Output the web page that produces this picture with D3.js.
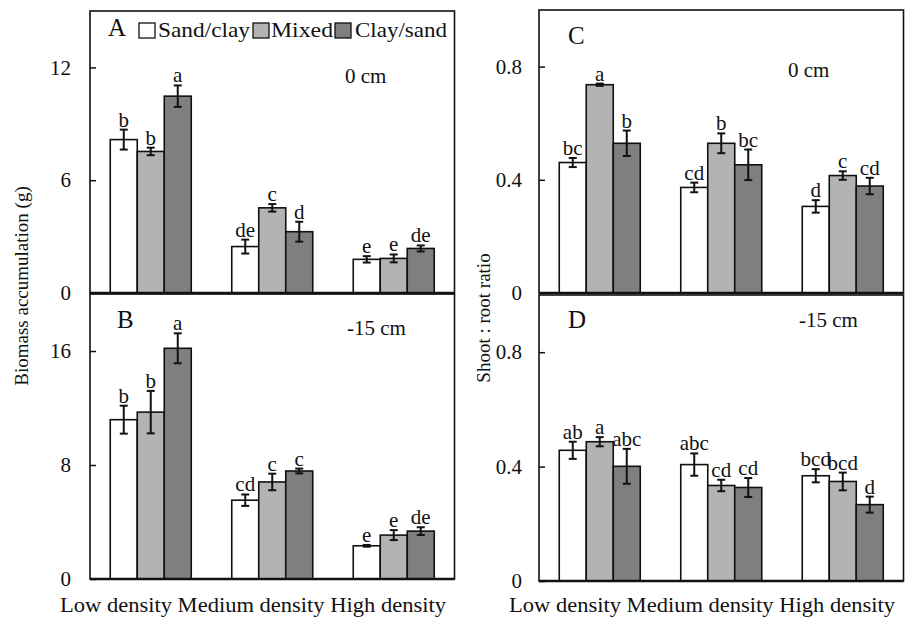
<!DOCTYPE html>
<html>
<head>
<meta charset="utf-8">
<script src="https://cdn.jsdelivr.net/npm/d3@7"></script>
<style>
  body { margin: 0; background: #fff; }
</style>
</head>
<body>
<div id="chart"></div>
<script>
// categories and series
var categories = ["Low density", "Medium density", "High density"];
var series = ["Sand/clay", "Mixed", "Clay/sand"];
var fills = ["#ffffff", "#b3b3b3", "#7f7f7f"];

// panel A - biomass, 0 cm
var sandA = [8.16, 2.47, 1.79], sandA_se = [0.53, 0.37, 0.17];
var mixedA = [7.53, 4.53, 1.84], mixedA_se = [0.20, 0.20, 0.21];
var clayA = [10.47, 3.26, 2.37], clayA_se = [0.57, 0.53, 0.16];
var sandA_lab = ["b", "de", "e"], mixedA_lab = ["b", "c", "e"], clayA_lab = ["a", "d", "de"];

// panel B - biomass, -15 cm
var sandB = [11.18, 5.53, 2.33], sandB_se = [0.98, 0.40, 0.06];
var mixedB = [11.71, 6.81, 3.08], mixedB_se = [1.49, 0.58, 0.35];
var clayB = [16.19, 7.58, 3.36], clayB_se = [1.05, 0.17, 0.27];
var sandB_lab = ["b", "cd", "e"], mixedB_lab = ["b", "c", "e"], clayB_lab = ["a", "c", "de"];

// panel C - shoot:root, 0 cm
var sandC = [0.461, 0.373, 0.306], sandC_se = [0.016, 0.017, 0.022];
var mixedC = [0.736, 0.529, 0.415], mixedC_se = [0.004, 0.035, 0.015];
var clayC = [0.529, 0.453, 0.378], clayC_se = [0.045, 0.054, 0.029];
var sandC_lab = ["bc", "cd", "d"], mixedC_lab = ["a", "b", "c"], clayC_lab = ["b", "bc", "cd"];

// panel D - shoot:root, -15 cm
var sandD = [0.457, 0.407, 0.368], sandD_se = [0.030, 0.039, 0.023];
var mixedD = [0.487, 0.334, 0.348], mixedD_se = [0.016, 0.020, 0.031];
var clayD = [0.401, 0.327, 0.267], clayD_se = [0.061, 0.033, 0.028];
var sandD_lab = ["ab", "abc", "bcd"], mixedD_lab = ["a", "cd", "bcd"], clayD_lab = ["abc", "cd", "d"];

// tick values
var ticksA = [0, 6, 12], ticksB = [0, 8, 16], ticksCD = [0, 0.4, 0.8];

var width = 907, height = 630;
var serif = "'Liberation Serif', 'Times New Roman', Times, 'DejaVu Serif', serif";

var svg = d3.select("#chart").append("svg")
    .attr("width", width)
    .attr("height", height)
    .style("font-family", serif);

function build(means, ses, labs) {
  var rows = [];
  for (var c = 0; c < categories.length; c++) {
    for (var s = 0; s < series.length; s++) {
      rows.push({ cat: categories[c], ser: series[s], si: s,
                  v: means[s][c], se: ses[s][c], lab: labs[s][c] });
    }
  }
  return rows;
}

function tickFmt01(d) { return d === 0 ? "0" : d3.format(".1f")(d); }

var panels = [
  { id: "A", x0: 90, top: 11, bottom: 293, max: 15, ticks: ticksA, fmt: d3.format("d"), pad: 19,
    depth: "0 cm", depthX: 345, depthY: 83, letterX: 108, letterY: 36,
    rows: build([sandA, mixedA, clayA], [sandA_se, mixedA_se, clayA_se], [sandA_lab, mixedA_lab, clayA_lab]) },
  { id: "B", x0: 90, top: 294, bottom: 579, max: 20, ticks: ticksB, fmt: d3.format("d"), pad: 19,
    depth: "-15 cm", depthX: 347, depthY: 335, letterX: 117, letterY: 328,
    rows: build([sandB, mixedB, clayB], [sandB_se, mixedB_se, clayB_se], [sandB_lab, mixedB_lab, clayB_lab]) },
  { id: "C", x0: 539, top: 10, bottom: 293, max: 1, ticks: ticksCD, fmt: tickFmt01, pad: 17,
    depth: "0 cm", depthX: 788, depthY: 77, letterX: 568, letterY: 44,
    rows: build([sandC, mixedC, clayC], [sandC_se, mixedC_se, clayC_se], [sandC_lab, mixedC_lab, clayC_lab]) },
  { id: "D", x0: 539, top: 295, bottom: 581, max: 1, ticks: ticksCD, fmt: tickFmt01, pad: 17,
    depth: "-15 cm", depthX: 799, depthY: 327, letterX: 568, letterY: 328,
    rows: build([sandD, mixedD, clayD], [sandD_se, mixedD_se, clayD_se], [sandD_lab, mixedD_lab, clayD_lab]) }
];

var panelW = 364.5;

panels.forEach(function(p) {
  var g = svg.append("g");

  var xScale = d3.scaleBand()
      .domain(categories)
      .range([p.x0, p.x0 + panelW])
      .padding(0);
  var xSub = d3.scaleBand()
      .domain(series)
      .range([0, xScale.bandwidth()])
      .paddingInner(0)
      .paddingOuter(0.75);
  var yScale = d3.scaleLinear()
      .domain([0, p.max])
      .range([p.bottom, p.top]);

  function cx(d) { return xScale(d.cat) + xSub(d.ser) + xSub.bandwidth() / 2; }

  // bars
  g.selectAll(".bar")
    .data(p.rows)
    .enter()
    .append("rect")
    .attr("class", "bar")
    .attr("x", function(d) { return xScale(d.cat) + xSub(d.ser); })
    .attr("y", function(d) { return yScale(d.v); })
    .attr("width", xSub.bandwidth())
    .attr("height", function(d) { return yScale(0) - yScale(d.v); })
    .attr("fill", function(d) { return fills[d.si]; })
    .attr("stroke", "#111")
    .attr("stroke-width", 1.6);

  // error bars
  var eb = g.selectAll(".err")
    .data(p.rows)
    .enter()
    .append("g")
    .attr("class", "err")
    .attr("stroke", "#111")
    .attr("stroke-width", 2);
  eb.append("line")
    .attr("x1", cx).attr("x2", cx)
    .attr("y1", function(d) { return yScale(d.v + d.se); })
    .attr("y2", function(d) { return yScale(d.v - d.se); });
  eb.append("line")
    .attr("x1", function(d) { return cx(d) - 4; })
    .attr("x2", function(d) { return cx(d) + 4; })
    .attr("y1", function(d) { return yScale(d.v + d.se); })
    .attr("y2", function(d) { return yScale(d.v + d.se); });
  eb.append("line")
    .attr("x1", function(d) { return cx(d) - 4; })
    .attr("x2", function(d) { return cx(d) + 4; })
    .attr("y1", function(d) { return yScale(d.v - d.se); })
    .attr("y2", function(d) { return yScale(d.v - d.se); });

  // significance letters
  g.selectAll(".sig")
    .data(p.rows)
    .enter()
    .append("text")
    .attr("class", "sig")
    .attr("x", cx)
    .attr("y", function(d) { return yScale(d.v + d.se) - 3; })
    .attr("text-anchor", "middle")
    .style("font-family", serif)
    .style("font-size", "21px")
    .attr("fill", "#111")
    .text(function(d) { return d.lab; });

  // y axis, ticks pointing inward
  var axis = g.append("g")
    .attr("transform", "translate(" + p.x0 + ",0)")
    .call(d3.axisLeft(yScale).tickValues(p.ticks).tickFormat(p.fmt)
          .tickSizeInner(-6).tickSizeOuter(0).tickPadding(p.pad));
  axis.attr("font-family", null).attr("font-size", null);
  axis.select(".domain").remove();
  axis.selectAll(".tick line").attr("stroke", "#111").attr("stroke-width", 1.5);
  axis.selectAll(".tick text")
    .style("font-family", serif)
    .style("font-size", "21px")
    .attr("fill", "#111");

  // frame
  g.append("rect")
    .attr("x", p.x0)
    .attr("y", p.top)
    .attr("width", panelW)
    .attr("height", p.bottom - p.top)
    .attr("fill", "none")
    .attr("stroke", "#111")
    .attr("stroke-width", 1.6);
  g.append("line")
    .attr("x1", p.x0).attr("x2", p.x0 + panelW)
    .attr("y1", p.bottom).attr("y2", p.bottom)
    .attr("stroke", "#111")
    .attr("stroke-width", 2.4);

  // panel letter and depth
  g.append("text")
    .attr("x", p.letterX)
    .attr("y", p.letterY)
    .style("font-family", serif)
    .style("font-size", "25px")
    .attr("fill", "#111")
    .text(p.id);
  g.append("text")
    .attr("x", p.depthX)
    .attr("y", p.depthY)
    .style("font-family", serif)
    .style("font-size", "21px")
    .attr("fill", "#111")
    .text(p.depth);
});

// legend in panel A
var legX = [139, 253, 335];
var legTextX = [158, 271, 355];
var legTextW = [92, 62, 92];
var legend = svg.append("g");
series.forEach(function(s, i) {
  legend.append("rect")
    .attr("x", legX[i])
    .attr("y", 23)
    .attr("width", 16)
    .attr("height", 15)
    .attr("fill", fills[i])
    .attr("stroke", "#111")
    .attr("stroke-width", 1.3);
  legend.append("text")
    .attr("x", legTextX[i])
    .attr("y", 37)
    .style("font-family", serif)
    .style("font-size", "21px")
    .attr("fill", "#111")
    .attr("textLength", legTextW[i])
    .attr("lengthAdjust", "spacingAndGlyphs")
    .text(s);
});

// y titles
svg.append("text")
  .attr("transform", "translate(28,286) rotate(-90)")
  .attr("text-anchor", "middle")
  .style("font-family", serif)
  .style("font-size", "19px")
  .attr("fill", "#111")
  .text("Biomass accumulation (g)");
svg.append("text")
  .attr("transform", "translate(490,318) rotate(-90)")
  .attr("text-anchor", "middle")
  .style("font-family", serif)
  .style("font-size", "19px")
  .attr("fill", "#111")
  .text("Shoot : root ratio");

// x category labels
[90, 539].forEach(function(x0) {
  svg.append("text")
    .attr("x", x0 - 30)
    .attr("y", 612)
    .style("font-family", serif)
    .style("font-size", "21px")
    .attr("fill", "#111")
    .attr("textLength", 386)
    .attr("lengthAdjust", "spacingAndGlyphs")
    .text(categories.join(" "));
});
</script>
</body>
</html>
